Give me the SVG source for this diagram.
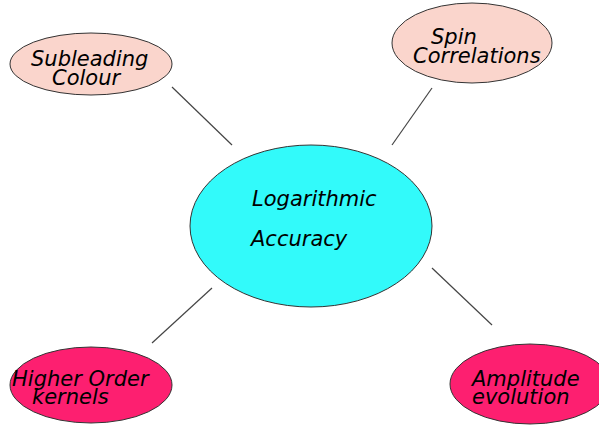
<svg xmlns="http://www.w3.org/2000/svg" width="599" height="425" viewBox="0 0 599 425">
<style>
.n{stroke:#333;stroke-width:1}
.pale{fill:#fad5cc}
.hot{fill:#fd1f70}
.core{fill:#32fafa}
.t{font-family:"DejaVu Sans","Liberation Sans",sans-serif;font-style:italic;font-size:21px;fill:#000}
.c line{stroke:#444;stroke-width:1.2}
</style>
<rect width="599" height="425" fill="#fff"/>
<g class="c">
<line x1="172" y1="87" x2="232" y2="145"/>
<line x1="432" y1="88" x2="392" y2="145"/>
<line x1="212" y1="288" x2="152" y2="343"/>
<line x1="432" y1="268" x2="492" y2="325"/>
</g>
<g id="subleading">
<ellipse class="n pale" cx="91" cy="64" rx="81" ry="31"/>
<text class="t" x="31" y="66">Subleading</text>
<text class="t" x="52" y="85">Colour</text>
</g>
<g id="spin">
<ellipse class="n pale" cx="472" cy="43" rx="80" ry="40"/>
<text class="t" x="431" y="44">Spin</text>
<text class="t" x="413" y="63">Correlations</text>
</g>
<g id="log">
<ellipse class="n core" cx="311" cy="226" rx="121" ry="81"/>
<text class="t" x="252" y="206">Logarithmic</text>
<text class="t" x="251" y="246">Accuracy</text>
</g>
<g id="higher">
<ellipse class="n hot" cx="91" cy="385" rx="81" ry="38"/>
<text class="t" x="12" y="386">Higher Order</text>
<text class="t" x="32" y="404">kernels</text>
</g>
<g id="amplitude">
<ellipse class="n hot" cx="530" cy="384" rx="80" ry="40"/>
<text class="t" x="472" y="386">Amplitude</text>
<text class="t" x="472" y="404">evolution</text>
</g>
</svg>
